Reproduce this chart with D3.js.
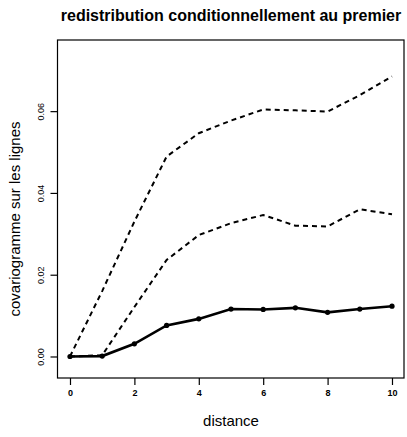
<!DOCTYPE html>
<html><head><meta charset="utf-8">
<script src="https://cdn.jsdelivr.net/npm/d3@7"></script>
<style>body{margin:0;background:#fff}svg{display:block}text{font-family:"Liberation Sans",Arial,sans-serif;fill:#000}</style>
</head><body><svg id="c" width="407" height="437"></svg>
<script>
const distances = [0,1,2,3,4,5,6,7,8,9,10];
const covariogram = [0.0000,0.0001,0.0031,0.0076,0.0092,0.0116,0.0115,0.0119,0.0108,0.0116,0.0123];
const upperBound = [0.0000,0.0160,0.0330,0.0489,0.0546,0.0577,0.0604,0.0602,0.0599,0.0639,0.0685];
const lowerBound = [0.0000,0.0003,0.0121,0.0236,0.0297,0.0326,0.0346,0.0320,0.0318,0.0360,0.0348];
const xTicks = [0,2,4,6,8,10];
const yTicks = [0,0.02,0.04,0.06];
const yTickLabels = ["0.00","0.02","0.04","0.06"];
const title = "redistribution conditionnellement au premier";
const xLabel = "distance";
const yLabel = "covariogramme sur les lignes";

const svg = d3.select("#c");
const L=57.5, R=404, T=40, B=378;
const x = d3.scaleLinear().domain([-0.388,10.373]).range([L,R]);
const y = d3.scaleLinear().domain([-0.00526,0.0774]).range([B,T]);

svg.append("rect").attr("x",L).attr("y",T).attr("width",R-L).attr("height",B-T)
  .attr("fill","none").attr("stroke","#000").attr("stroke-width",1.2);

const xAxis = svg.append("g").attr("transform",`translate(0,${B})`)
  .call(d3.axisBottom(x).tickValues(xTicks).tickSize(7).tickPadding(5).tickFormat(d3.format("d")));
xAxis.select(".domain").remove();
xAxis.selectAll("text").attr("font-size",9).attr("font-weight","bold").attr("font-family","Liberation Sans, Arial, sans-serif");
xAxis.selectAll("line").attr("stroke-width",1.2);

const yAxis = svg.append("g").attr("transform",`translate(${L},0)`)
  .call(d3.axisLeft(y).tickValues(yTicks).tickSize(7).tickFormat((d,i)=>yTickLabels[i]));
yAxis.select(".domain").remove();
yAxis.selectAll("line").attr("stroke-width",1.2);
yAxis.selectAll("text").attr("font-size",9).attr("font-family","Liberation Sans, Arial, sans-serif")
  .attr("text-anchor","middle").attr("x",0)
  .attr("transform","translate(-17,0) rotate(-90)").attr("dy","0.35em");

const line = d3.line().x((d,i)=>x(distances[i])).y(d=>y(d));
[upperBound, lowerBound].forEach(s=>{
  svg.append("path").attr("d",line(s)).attr("fill","none").attr("stroke","#000")
    .attr("stroke-width",2).attr("stroke-dasharray","5,4");
});
svg.append("path").attr("d",line(covariogram)).attr("fill","none").attr("stroke","#000").attr("stroke-width",2.6);
svg.selectAll("circle.pt").data(covariogram).enter().append("circle")
  .attr("cx",(d,i)=>x(distances[i])).attr("cy",d=>y(d)).attr("r",2.6).attr("fill","#000");

svg.append("text").attr("x",231).attr("y",21).attr("text-anchor","middle")
  .attr("font-size",16).attr("font-weight","bold").text(title);
svg.append("text").attr("x",231).attr("y",426).attr("text-anchor","middle")
  .attr("font-size",15).text(xLabel);
svg.append("text").attr("transform","translate(20,219) rotate(-90)").attr("text-anchor","middle")
  .attr("font-size",15).text(yLabel);
</script></body></html>
